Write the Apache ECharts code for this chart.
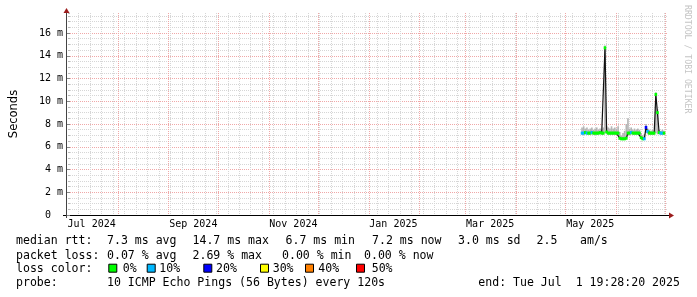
<!DOCTYPE html>
<html><head><meta charset="utf-8">
<script src="https://cdn.jsdelivr.net/npm/echarts@6/dist/echarts.min.js"></script>
<style>html,body{margin:0;padding:0;background:#fff}#c{width:697px;height:297px}</style>
</head><body><div id="c"></div>
<script>
// ---------------- data ----------------
const days = ['2025-05-11','2025-05-12','2025-05-13','2025-05-14','2025-05-15','2025-05-16','2025-05-17','2025-05-18','2025-05-19','2025-05-20',
  '2025-05-21','2025-05-22','2025-05-23','2025-05-24','2025-05-25','2025-05-26','2025-05-27','2025-05-28','2025-05-29','2025-05-30',
  '2025-05-31','2025-06-01','2025-06-02','2025-06-03','2025-06-04','2025-06-05','2025-06-06','2025-06-07','2025-06-08','2025-06-09',
  '2025-06-10','2025-06-11','2025-06-12','2025-06-13','2025-06-14','2025-06-15','2025-06-16','2025-06-17','2025-06-18','2025-06-19',
  '2025-06-20','2025-06-21','2025-06-22','2025-06-23','2025-06-24','2025-06-25','2025-06-26','2025-06-27','2025-06-28','2025-06-29','2025-06-30'];
// median rtt in ms
const median = [7.2,7.2,7.25,7.2,7.2,7.2,7.25,7.2,7.2,7.2,
  7.2,7.25,7.2,7.2,14.7,7.3,7.2,7.2,7.2,7.2,
  7.2,7.2,7.2,6.75,6.7,6.7,6.7,6.75,7.2,7.2,
  7.25,7.2,7.2,7.2,7.2,7.2,6.8,6.7,6.7,7.7,
  7.35,7.2,7.2,7.2,7.2,10.6,9.0,7.25,7.2,7.2,7.2];
// smoke (spread of the pings) in ms
const smokeLo = [7.05,7.05,7.1,7.05,7.05,7.05,7.1,7.05,7.05,7.05,
  7.05,7.1,7.05,7.05,7.2,7.1,7.05,7.05,7.05,7.05,
  7.05,7.05,7.05,6.65,6.6,6.6,6.6,6.65,7.05,7.05,
  7.1,7.05,7.05,7.05,7.05,7.05,6.7,6.6,6.6,7.2,
  7.1,7.05,7.05,7.05,7.05,7.2,7.1,7.1,7.05,7.05,7.05];
const smokeHi = [7.7,7.8,7.6,7.7,7.5,7.6,7.7,7.5,7.6,7.7,
  7.5,7.6,7.5,7.7,14.9,7.8,7.7,7.6,7.8,7.6,
  7.7,7.6,7.8,7.3,7.0,7.2,7.4,8.0,8.5,7.6,
  7.7,7.5,7.6,7.5,7.6,7.5,7.2,7.0,7.1,8.0,
  7.6,7.5,7.4,7.5,7.4,10.8,9.3,7.5,7.4,7.5,7.4];
// packet loss in %
const lossPct = [0.2,0.3,0,0.2,0,0,0.3,0,0,0,
  0,0,0,0,0,0,0,0,0,0,
  0,0,0,0,0,0,0,0,0,0,
  0.2,0,0,0,0,0,0,0,0.3,2.69,
  0.3,0,0,0,0,0,0,0,0.2,0.3,0];
const xLabels = ['Jul 2024','Sep 2024','Nov 2024','Jan 2025','Mar 2025','May 2025'];
const xLabelDates = ['2024-07-16','2024-09-16','2024-11-16','2025-01-16','2025-03-16','2025-05-16'];
const lossLegend = ['0%','10%','20%','30%','40%','50%'];
const lossColors = ['#00ff00','#00b8ff','#0000ff','#ffff00','#ff8000','#ff0000'];
const endTime = '2025-07-01T19:28:20Z';
const spanDays = 364;
const yMaxMs = 17.76;

const statLine1 = ['median rtt:','7.3 ms avg','14.7 ms max','6.7 ms min','7.2 ms now','3.0 ms sd','2.5','am/s'];
const statLine2 = ['packet loss:','0.07 % avg','2.69 % max','0.00 % min','0.00 % now'];
const lossTitle = 'loss color:';
const probeLine = ['probe:','10 ICMP Echo Pings (56 Bytes) every 120s','end: Tue Jul  1 19:28:20 2025'];
const watermark = 'RRDTOOL / TOBI OETIKER';

// ---------------- layout ----------------
const G = {left:67, top:13, width:600, height:202};
const mono = '"DejaVu Sans Mono", monospace';
const textSize = 11.55;
const x1Pos = [16,107,192.5,285.5,372,458,536.5,580];
const x2Pos = [16,107,192.5,282,364];
const boxPos = [108.3,146.7,203.3,260,305,356];
const boxLabelPos = [122.7,159.3,216,272.7,318.3,371.7];
const x4Pos = [16,107,478.3];
const baselines = [245,259.7,272.7,287.3];

const DAY = 86400000;
const tt = s => Date.parse(s + 'T00:00:00Z');
const END = Date.parse(endTime);
const START = END - spanDays*DAY;

// grid line positions (calendar)
const monthTicks = [];
{ const d0 = new Date(START); let y = d0.getUTCFullYear(), m = d0.getUTCMonth()+1;
  while (true) { const t = Date.UTC(y, m, 1); if (t > END) break; monthTicks.push(t); m++; if (m > 11) { m = 0; y++; } } }
const weekTicks = [];
{ let t = Date.UTC(new Date(START).getUTCFullYear(), new Date(START).getUTCMonth(), new Date(START).getUTCDate());
  while (new Date(t).getUTCDay() !== 1 || t < START) t += DAY;
  for (; t <= END; t += 7*DAY) weekTicks.push(t); }
const labelTimes = xLabelDates.map(tt);
const labelMap = {}; labelTimes.forEach((t,i)=>labelMap[t]=xLabels[i]);

function lossIndex(l){ if (l<=0) return 0; if (l<1) return 1; if (l<3) return 2; if (l<4) return 3; if (l<5) return 4; return 5; }

const base = {type:'value', min:START, max:END, gridIndex:0, position:'bottom'};
const gridGrey = '#d6d6d6', gridRed = '#f0a8a8';

const graphics = [];
function txt(s, x, yb, extra){ graphics.push(Object.assign({type:'text', x:x, y:yb - 3.9, silent:true,
  style:{text:s, font: textSize + 'px ' + mono, fill:'#000', textVerticalAlign:'middle', textAlign:'left'}}, extra||{})); }
statLine1.forEach((s,i)=>txt(s, x1Pos[i], baselines[0]));
statLine2.forEach((s,i)=>txt(s, x2Pos[i], baselines[1]));
txt(lossTitle, 16, baselines[2]);
lossLegend.forEach((s,i)=>{
  graphics.push({type:'rect', silent:true, shape:{x:boxPos[i]+0.5, y:baselines[2]-8.5, width:8, height:8},
    style:{fill:lossColors[i], stroke:'#000', lineWidth:1}});
  txt(s, boxLabelPos[i], baselines[2]);
});
probeLine.forEach((s,i)=>txt(s, x4Pos[i], baselines[3]));
// axis arrows (dark red) and axis lines
const axR = G.left + G.width, axB = G.top + G.height;
graphics.push({type:'line', silent:true, shape:{x1:G.left-4, y1:axB+0.5, x2:axR+2, y2:axB+0.5}, style:{stroke:'#000', lineWidth:1}});
graphics.push({type:'line', silent:true, shape:{x1:G.left-0.5, y1:axB+3, x2:G.left-0.5, y2:G.top-2}, style:{stroke:'#444', lineWidth:1}});
graphics.push({type:'polygon', silent:true, shape:{points:[[axR+2,axB-2.5],[axR+2,axB+3.5],[axR+7,axB+0.5]]}, style:{fill:'#9b1c1c'}});
graphics.push({type:'polygon', silent:true, shape:{points:[[G.left-3.5,G.top],[G.left+2.5,G.top],[G.left-0.5,G.top-5]]}, style:{fill:'#9b1c1c'}});
graphics.push({type:'text', silent:true, x:687.5, y:5, rotation:-Math.PI/2,
  style:{text:watermark, font:'8.2px ' + mono, fill:'#c4c4c4', textAlign:'left', textVerticalAlign:'middle'}});

const chart = echarts.init(document.getElementById('c'), null, {renderer:'canvas'});
chart.setOption({
  animation:false,
  backgroundColor:'#fff',
  grid:{left:G.left, top:G.top, width:G.width, height:G.height, containLabel:false},
  xAxis:[
    Object.assign({}, base, {axisLine:{show:false}, axisTick:{show:false}, axisLabel:{show:false}, splitLine:{show:false}}),
    Object.assign({}, base, {axisLine:{show:false}, axisTick:{show:false, customValues:weekTicks}, axisLabel:{show:false},
      splitLine:{show:true, lineStyle:{color:gridGrey, width:1, type:[1,1]}}}),
    Object.assign({}, base, {axisLine:{show:false}, axisTick:{show:false, customValues:monthTicks}, axisLabel:{show:false},
      splitLine:{show:true, lineStyle:{color:gridRed, width:1, type:[1,1]}}}),
    Object.assign({}, base, {axisLine:{show:false}, axisTick:{show:false},
      axisLabel:{show:true, customValues:labelTimes, formatter:v=>labelMap[v]||'', margin:4,
        fontFamily:mono, fontSize:10, color:'#000'}, splitLine:{show:false}})
  ],
  yAxis:[
    {type:'value', min:0, max:yMaxMs, interval:0.5, position:'left', axisLine:{show:false},
      axisTick:{show:true, length:2, lineStyle:{color:'#bbb'}}, axisLabel:{show:false},
      splitLine:{show:true, showMinLine:false, showMaxLine:false, lineStyle:{color:gridGrey, width:1, type:[1,1]}}},
    {type:'value', min:0, max:yMaxMs, interval:2, position:'left',
      name:'Seconds', nameLocation:'middle', nameGap:50, nameRotate:90,
      nameTextStyle:{fontFamily:'"DejaVu Sans", sans-serif', fontSize:11.5, color:'#000'},
      axisLine:{show:false},
      axisTick:{show:true, length:3, lineStyle:{color:'#888'}},
      axisLabel:{show:true, showMaxLabel:false, margin:7, fontFamily:mono, fontSize:10, color:'#000',
        formatter:v=> v===0 ? '0  ' : (Math.abs(v/2-Math.round(v/2))<1e-9 ? v+' m' : '')},
      splitLine:{show:true, showMinLine:false, showMaxLine:false, lineStyle:{color:gridRed, width:1, type:[1,1]}}}
  ],
  series:[
    {type:'custom', name:'smoke', xAxisIndex:0, yAxisIndex:1, silent:true, z:3,
      data: days.map((d,i)=>[tt(d), smokeLo[i], smokeHi[i]]),
      encode:{x:0, y:[1,2]},
      renderItem:(params, api)=>{
        const p1 = api.coord([api.value(0)-DAY/2, api.value(2)]);
        const p2 = api.coord([api.value(0)+DAY/2, api.value(1)]);
        return {type:'rect', shape:{x:p1[0], y:p1[1], width:p2[0]-p1[0], height:p2[1]-p1[1]}, style:{fill:'#b4b4b4'}};
      }},
    {type:'line', name:'median', xAxisIndex:0, yAxisIndex:1, z:4, silent:true, showSymbol:false, symbol:'none',
      lineStyle:{color:'#111', width:1.2}, data: days.map((d,i)=>[tt(d), median[i]])},
    {type:'scatter', name:'loss', xAxisIndex:0, yAxisIndex:1, z:5, silent:true, symbol:'rect', symbolSize:[2.6,3],
      data: days.map((d,i)=>[tt(d), median[i], lossPct[i]]),
      itemStyle:{opacity:1, color:p=>lossColors[lossIndex(p.value[2])]}}
  ],
  graphic: graphics
});
</script></body></html>
